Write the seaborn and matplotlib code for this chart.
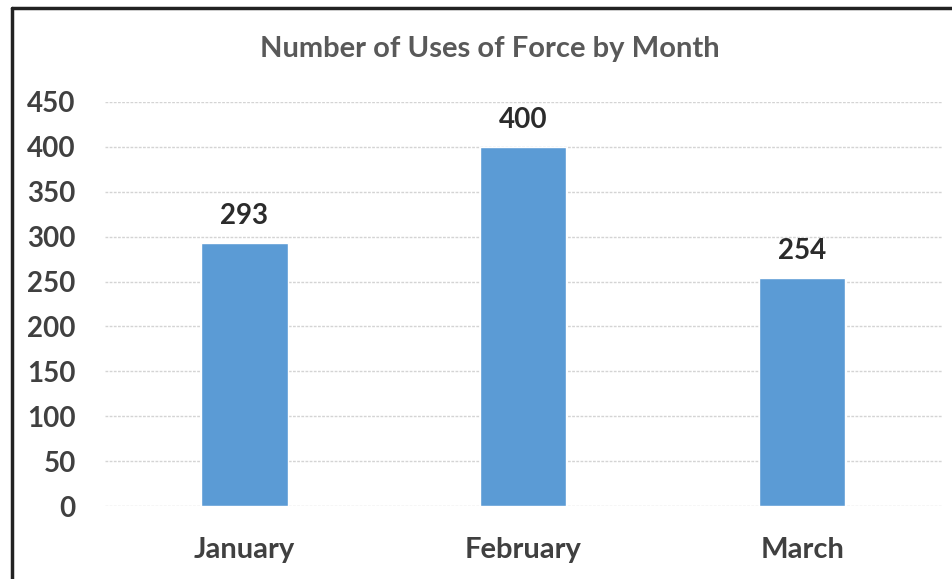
import matplotlib
matplotlib.use("Agg")
import matplotlib.pyplot as plt
import seaborn as sns
import pandas as pd

# Data
months = ["January", "February", "March"]
uses = [293, 400, 254]
y_ticks = [0, 50, 100, 150, 200, 250, 300, 350, 400, 450]

df = pd.DataFrame({"month": months, "uses": uses})

sns.set_style("white")
plt.rcParams["font.family"] = ["Lato", "DejaVu Sans"]

fig = plt.figure(figsize=(9.53, 5.79), dpi=100)
ax = fig.add_axes([0.110, 0.126, 0.878, 0.698])

sns.barplot(data=df, x="month", y="uses", color="#5B9BD5", width=0.31,
            saturation=1, ax=ax, zorder=3)

ax.set_ylim(0, 450)
ax.set_xlim(-0.5, 2.5)
ax.set_yticks(y_ticks)
ax.yaxis.grid(True, color="#d4d4d4", linestyle=(0, (2, 1)), linewidth=1)
ax.set_axisbelow(True)
for s in ax.spines.values():
    s.set_visible(False)
ax.set_xlabel("")
ax.set_ylabel("")
ax.tick_params(axis="y", length=0, pad=21, labelsize=20, labelcolor="#404040")
ax.tick_params(axis="x", length=0, pad=22.5, labelsize=21, labelcolor="#404040")
for lbl in ax.get_xticklabels() + ax.get_yticklabels():
    lbl.set_fontweight("bold")

# value labels above bars
ax.bar_label(ax.containers[0], padding=10, fontsize=20, fontweight="bold",
             color="#2b2b2b")

fig.text(0.514, 0.915, "Number of Uses of Force by Month", ha="center",
         va="center", fontsize=21, fontweight="bold", color="#595959")

# left and top border of the chart frame
fig.add_artist(plt.Line2D([0.0126, 0.0126], [0.0, 0.986], color="#222222",
                          linewidth=2.5, transform=fig.transFigure))
fig.add_artist(plt.Line2D([0.0126, 1.0], [0.986, 0.986], color="#222222",
                          linewidth=2.5, transform=fig.transFigure))

fig.savefig("out.png", dpi=100)
